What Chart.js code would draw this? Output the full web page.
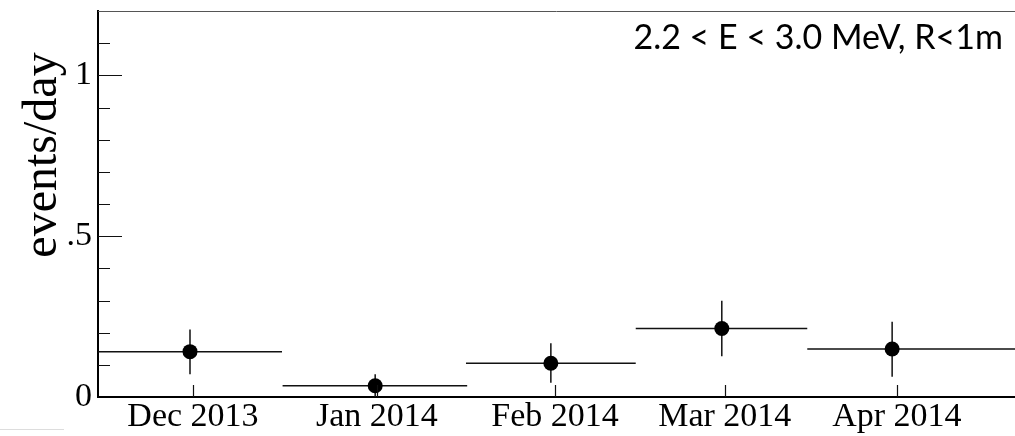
<!DOCTYPE html>
<html>
<head>
<meta charset="utf-8">
<script src="https://cdn.jsdelivr.net/npm/chart.js@4"></script>
<style>
  html, body { margin: 0; padding: 0; background: #fff; overflow: hidden; }
  #wrap { width: 1015px; height: 436px; position: relative; }
  #rateChart { display: block; }
</style>
</head>
<body>
<div id="wrap"><canvas id="rateChart"></canvas></div>
<script>
// x values are days since 1 Dec 2013
const monthLabels = ["Dec 2013", "Jan 2014", "Feb 2014", "Mar 2014", "Apr 2014"];
const monthTicks = [16.0, 47.0, 77.0, 105.6, 134.6];
const binCenter = [15.5, 46.7, 76.3, 105.1, 133.8];
const binLow = [0, 31.1, 62.0, 90.6, 119.5];
const binHigh = [31.0, 62.2, 90.6, 119.5, 170];
const rate = [0.141, 0.035, 0.105, 0.213, 0.149];
const rateErrUp = [0.069, 0.036, 0.062, 0.086, 0.085];
const rateErrDown = [0.070, 0.035, 0.061, 0.086, 0.086];
const yTitle = "events/day";
const cutLabel = "2.2 < E < 3.0 MeV, R<1m";

const serif = "'Liberation Serif', 'Times New Roman', serif";

// ROOT-like extras: error bars, inward ticks, frame top, labels
const rootStyle = {
  id: "rootStyle",
  beforeDatasetsDraw(chart) {
    const { ctx, chartArea: a, scales: { x, y } } = chart;
    ctx.save();
    ctx.beginPath();
    ctx.rect(a.left, a.top, a.right - a.left, a.bottom - a.top);
    ctx.clip();
    ctx.strokeStyle = "#111";
    ctx.lineWidth = 1.5;
    rate.forEach((v, i) => {
      const px = x.getPixelForValue(binCenter[i]);
      const py = y.getPixelForValue(v);
      ctx.beginPath();
      ctx.moveTo(x.getPixelForValue(binLow[i]), py);
      ctx.lineTo(x.getPixelForValue(binHigh[i]), py);
      ctx.moveTo(px, y.getPixelForValue(v + rateErrUp[i]));
      ctx.lineTo(px, y.getPixelForValue(v - rateErrDown[i]));
      ctx.stroke();
    });
    ctx.restore();
  },
  afterDraw(chart) {
    const { ctx, chartArea: a, scales: { x, y } } = chart;
    ctx.save();
    ctx.strokeStyle = "#111";
    ctx.lineWidth = 1.2;
    ctx.beginPath();
    y.ticks.forEach(t => {
      const r = Math.round(t.value * 10);
      if (r === 0) return;
      const py = Math.round(y.getPixelForValue(t.value)) + 0.5;
      ctx.moveTo(a.left, py);
      ctx.lineTo(a.left + (r % 5 === 0 ? 24 : 12), py);
    });
    x.ticks.forEach(t => {
      const px = Math.round(x.getPixelForValue(t.value)) + 0.5;
      ctx.moveTo(px, a.bottom);
      ctx.lineTo(px, a.bottom - 12);
    });
    ctx.stroke();

    // thin top frame line
    ctx.strokeStyle = "#555";
    ctx.lineWidth = 1;
    ctx.beginPath();
    ctx.moveTo(a.left, Math.round(a.top) + 0.5);
    ctx.lineTo(a.right, Math.round(a.top) + 0.5);
    ctx.stroke();

    // faint line bottom left
    ctx.strokeStyle = "#ddd";
    ctx.beginPath();
    ctx.moveTo(0, 429.5);
    ctx.lineTo(64, 429.5);
    ctx.stroke();

    ctx.fillStyle = "#000";
    // y title, aligned toward the top like ROOT
    ctx.save();
    ctx.translate(56, 155);
    ctx.rotate(-Math.PI / 2);
    ctx.font = "48px " + serif;
    ctx.textAlign = "center";
    ctx.textBaseline = "alphabetic";
    ctx.fillText(yTitle, 0, 0);
    ctx.restore();

    ctx.font = "34px Lato, 'Open Sans', sans-serif";
    ctx.textAlign = "right";
    ctx.textBaseline = "alphabetic";
    ctx.fillText(cutLabel, 1003, 49);
    ctx.restore();
  }
};

const ctx = document.getElementById("rateChart").getContext("2d");
new Chart(ctx, {
  type: "scatter",
  data: {
    datasets: [{
      data: binCenter.map((v, i) => ({ x: v, y: rate[i] })),
      pointRadius: 7.5,
      pointHoverRadius: 7.5,
      pointBackgroundColor: "#000",
      pointBorderWidth: 0,
      showLine: false
    }]
  },
  options: {
    responsive: true,
    maintainAspectRatio: false,
    animation: false,
    layout: { autoPadding: false, padding: { top: 11, right: 0, bottom: 0, left: 0 } },
    plugins: {
      legend: { display: false },
      tooltip: { enabled: false }
    },
    scales: {
      x: {
        type: "linear",
        min: 0,
        max: 154.5,
        afterBuildTicks: s => { s.ticks = monthTicks.map(v => ({ value: v })); },
        afterFit: s => { s.height = 39; s.paddingLeft = 0; s.paddingRight = 0; },
        grid: { drawOnChartArea: false, drawTicks: false },
        border: { display: true, width: 2, color: "#000" },
        ticks: {
          autoSkip: false,
          maxRotation: 0,
          padding: 3.5,
          color: "#000",
          font: { family: serif, size: 34, lineHeight: 1 },
          callback: (v, i) => monthLabels[i]
        }
      },
      y: {
        min: 0,
        max: 1.2,
        afterFit: s => { s.width = 98; s.paddingTop = 0; s.paddingBottom = 0; },
        grid: { drawOnChartArea: false, drawTicks: false },
        border: { display: true, width: 2, color: "#000" },
        ticks: {
          stepSize: 0.1,
          autoSkip: false,
          padding: 6,
          color: "#000",
          font: { family: serif, size: 34, lineHeight: 1 },
          callback: v => {
            const r = Math.round(v * 10);
            return r === 0 ? "0" : r === 5 ? ".5" : r === 10 ? "1" : "";
          }
        }
      }
    }
  },
  plugins: [rootStyle]
});
</script>
</body>
</html>
